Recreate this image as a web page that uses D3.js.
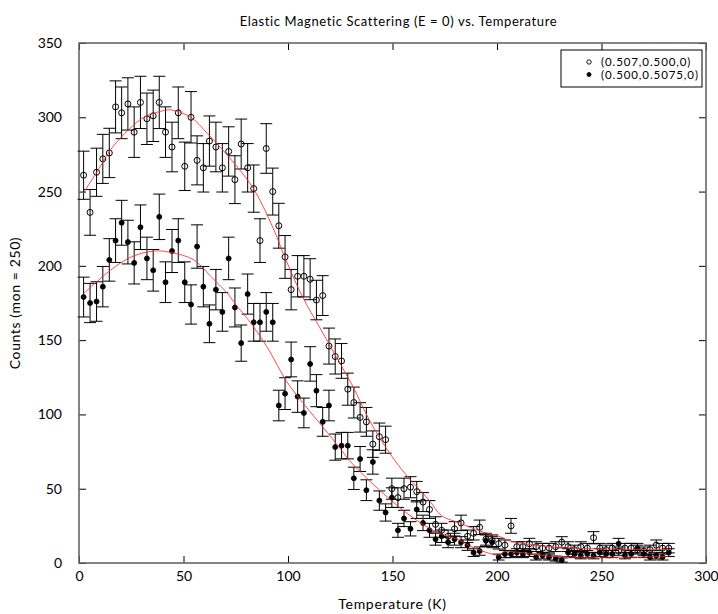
<!DOCTYPE html>
<html>
<head>
<meta charset="utf-8">
<script src="https://cdn.jsdelivr.net/npm/d3@7"></script>
<style>
  body { margin: 0; background: #fff; }
  text { font-family: Lato, "Open Sans", sans-serif; }
</style>
</head>
<body>
<div id="chart"></div>
<script>
const width = 718;
const height = 614;

// Temperatures (K) shared by both scans
const tempK = [2.2, 5.3, 8.4, 11.4, 14.5, 17.5, 20.4, 23.4, 26.4, 29.4, 32.5, 35.5, 38.4, 41.4, 44.5, 47.5,
  50.6, 53.6, 56.5, 59.5, 62.4, 65.5, 68.6, 71.6, 74.6, 77.6, 80.7, 83.6, 86.6, 89.6, 92.7, 95.6, 98.6,
  101.5, 104.6, 107.6, 110.6, 113.6, 116.6, 119.6, 122.6, 125.6, 128.6, 131.5, 134.5, 137.5, 140.6, 143.7,
  146.7, 149.7, 152.6, 155.5, 158.6, 161.6, 164.6, 167.7, 170.6, 173.5, 176.6, 179.7, 182.8, 185.9, 188.8,
  191.7, 194.7, 197.7, 200.8, 203.8, 206.7, 209.5, 212.4, 215.5, 218.7, 221.8, 224.9, 228.1, 231.0, 234.0,
  237.0, 240.1, 243.2, 246.2, 249.2, 252.2, 255.2, 258.2, 261.2, 264.2, 267.2, 270.2, 273.2, 276.2, 279.2, 282.2];

// (0.507,0.500,0) - open circles
const openCounts = [261, 236, 263, 272, 276, 307, 303, 309, 290, 310, 299, 301, 310, 290, 280, 303,
  267, 300, 271, 266, 284, 280, 266, 277, 258, 282, 266, 252, 217, 279, 250, 227, 206,
  184, 193, 193, 191, 177, 180, 146, 139, 136, 117, 108, 98, 95, 80, 85,
  83, 50, 44, 50, 51, 48, 41, 36, 26, 22, 18, 23, 27, 18, 20,
  24, 16, 15, 13, 12, 25, 11, 11, 13, 11, 10, 10, 11, 14, 11,
  9, 11, 10, 17, 10, 9, 10, 8, 10, 10, 9, 8, 9, 12, 10, 10];
const openErr = [16.2, 15.4, 16.2, 16.5, 16.6, 17.5, 17.4, 17.6, 17.0, 17.6, 17.3, 17.3, 17.6, 17.0, 16.7, 17.4,
  16.3, 17.3, 16.5, 16.3, 16.9, 16.7, 16.3, 16.6, 16.1, 16.8, 16.3, 15.9, 14.7, 16.7, 15.8, 15.1, 14.4,
  13.6, 13.9, 13.9, 13.8, 13.3, 13.4, 12.1, 11.8, 11.7, 10.8, 10.4, 9.9, 9.7, 8.9, 9.2,
  9.1, 7.1, 6.6, 7.1, 7.1, 6.9, 6.4, 6.0, 5.1, 4.7, 4.2, 4.8, 5.2, 4.2, 4.5,
  4.9, 4.0, 3.9, 3.6, 3.5, 5.0, 3.3, 3.3, 3.6, 3.3, 3.2, 3.2, 3.3, 3.7, 3.3,
  3.0, 3.3, 3.2, 4.1, 3.2, 3.0, 3.2, 2.8, 3.2, 3.2, 3.0, 2.8, 3.0, 3.5, 3.2, 3.2];

// (0.500,0.5075,0) - filled circles
const filledCounts = [179, 175, 176, 186, 204, 217, 229, 216, 202, 226, 205, 197, 233, 189, 210, 217,
  189, 174, 213, 186, 161, 184, 169, 205, 172, 148, 181, 162, 162, 169, 162, 106, 114,
  137, 112, 101, 134, 116, 95, 106, 78, 79, 79, 57, 70, 49, 68, 42,
  34, 44, 22, 30, 23, 36, 27, 22, 16, 18, 14, 16, 14, 12, 7,
  8, 15, 14, 4, 6, 6, 7, 6, 7, 4, 5, 4, 3, 2, 7,
  6, 5, 6, 5, 7, 6, 6, 13, 5, 6, 10, 6, 4, 5, 4, 7];
const filledErr = [13.4, 13.2, 13.3, 13.6, 14.3, 14.7, 15.1, 14.7, 14.2, 15.0, 14.3, 14.0, 15.3, 13.7, 14.5, 14.7,
  13.7, 13.2, 14.6, 13.6, 12.7, 13.6, 13.0, 14.3, 13.1, 12.2, 13.5, 12.7, 12.7, 13.0, 12.7, 10.3, 10.7,
  11.7, 10.6, 10.0, 11.6, 10.8, 9.7, 10.3, 8.8, 8.9, 8.9, 7.5, 8.4, 7.0, 8.2, 6.5,
  5.8, 6.6, 4.7, 5.5, 4.8, 6.0, 5.2, 4.7, 4.0, 4.2, 3.7, 4.0, 3.7, 3.5, 2.6,
  2.8, 3.9, 3.7, 2.0, 2.4, 2.4, 2.6, 2.4, 2.6, 2.0, 2.2, 2.0, 1.7, 1.4, 2.6,
  2.4, 2.2, 2.4, 2.2, 2.6, 2.4, 2.4, 3.6, 2.2, 2.4, 3.2, 2.4, 2.0, 2.2, 2.0, 2.6];

// Fit curves
const fitOpenT = [2, 8.5, 15, 24, 31, 39, 44, 53.5, 61.5, 70, 83, 92.7, 99, 107, 115, 123, 131, 139,
  148.6, 157.3, 167.7, 173.3, 182, 193, 201, 206, 229, 282.5];
const fitOpenC = [249, 263, 278, 292, 300, 304, 305, 300, 289, 276, 253, 226, 204, 179, 159, 139, 119, 96,
  74, 58, 42, 32, 27, 21, 18, 15, 10.5, 9.2];
const fitFilledT = [2, 15, 25, 36, 44, 55, 63, 71, 75, 83, 91, 99, 107, 117, 125, 129.4, 145.4, 161.3,
  172.5, 182, 187, 201, 203, 229, 282];
const fitFilledC = [181, 197, 206, 210, 209, 204, 193, 181.5, 174, 160, 143, 123, 108, 91, 77, 69, 47, 29,
  20, 15.5, 11.4, 5.4, 7.4, 4.3, 4.3];

const xTicks = [0, 50, 100, 150, 200, 250, 300];
const yTicks = [0, 50, 100, 150, 200, 250, 300, 350];
const legendLabels = ["(0.507,0.500,0)", "(0.500,0.5075,0)"];

const margin = { top: 43, right: 12, bottom: 51, left: 79 };

const x = d3.scaleLinear().domain([0, 300]).range([margin.left, width - margin.right]);
const y = d3.scaleLinear().domain([0, 350]).range([height - margin.bottom, margin.top]);

const svg = d3.select("#chart")
    .append("svg")
    .attr("width", width)
    .attr("height", height)
    .attr("viewBox", [0, 0, width, height]);

// Axes with inward ticks on all four sides
function styleAxis(g) {
    g.select(".domain").remove();
    g.selectAll(".tick line").attr("stroke", "#000");
    g.selectAll(".tick text").attr("fill", "#000").attr("font-size", 14);
}

svg.append("g")
    .attr("transform", `translate(0,${y(0)})`)
    .call(d3.axisBottom(x).tickValues(xTicks).tickSize(-7).tickPadding(8))
    .call(styleAxis);

svg.append("g")
    .attr("transform", `translate(0,${y(350)})`)
    .call(d3.axisTop(x).tickValues(xTicks).tickSize(-7).tickFormat(""))
    .call(styleAxis);

svg.append("g")
    .attr("transform", `translate(${x(0)},0)`)
    .call(d3.axisLeft(y).tickValues(yTicks).tickSize(-7).tickPadding(17))
    .call(styleAxis);

svg.append("g")
    .attr("transform", `translate(${x(300)},0)`)
    .call(d3.axisRight(y).tickValues(yTicks).tickSize(-7).tickFormat(""))
    .call(styleAxis);

// Plot frame
svg.append("rect")
    .attr("x", x(0))
    .attr("y", y(350))
    .attr("width", x(300) - x(0))
    .attr("height", y(0) - y(350))
    .attr("fill", "none")
    .attr("stroke", "#666")
    .attr("stroke-width", 1.6);

// Build point records for both series
const series = [
    { counts: openCounts, err: openErr, filled: false },
    { counts: filledCounts, err: filledErr, filled: true }
];

const cap = 6;
const bars = svg.append("g").attr("stroke", "#000").attr("stroke-width", 1).attr("fill", "none");

series.forEach(s => {
    const pts = tempK.map((t, i) => ({ t, c: s.counts[i], e: s.err[i] }));
    bars.append("g")
        .selectAll("path")
        .data(pts)
        .join("path")
        .attr("d", d => {
            const px = x(d.t), lo = y(d.c - d.e), hi = y(d.c + d.e);
            return `M${px},${lo}V${hi}M${px - cap},${hi}H${px + cap}M${px - cap},${lo}H${px + cap}`;
        });
});

series.forEach(s => {
    const pts = tempK.map((t, i) => ({ t, c: s.counts[i] }));
    svg.append("g")
        .selectAll("circle")
        .data(pts)
        .join("circle")
        .attr("cx", d => x(d.t))
        .attr("cy", d => y(d.c))
        .attr("r", s.filled ? 2.5 : 3)
        .attr("fill", s.filled ? "#000" : "none")
        .attr("stroke", "#000")
        .attr("stroke-width", s.filled ? 0.8 : 1);
});

// Fit lines
const line = d3.line()
    .x(d => x(d[0]))
    .y(d => y(d[1]))
    .curve(d3.curveCatmullRom.alpha(0.5));

[[fitOpenT, fitOpenC], [fitFilledT, fitFilledC]].forEach(([ts, cs]) => {
    svg.append("path")
        .attr("d", line(ts.map((t, i) => [t, cs[i]])))
        .attr("fill", "none")
        .attr("stroke", "#ff2a2a")
        .attr("stroke-width", 1)
        .attr("stroke-opacity", 0.85);
});

// Legend
const legend = svg.append("g").attr("transform", "translate(561,50)");
legend.append("rect")
    .attr("width", 141)
    .attr("height", 37)
    .attr("fill", "#fff")
    .attr("stroke", "#000")
    .attr("stroke-width", 1);

legendLabels.forEach((label, i) => {
    const row = legend.append("g").attr("transform", `translate(0,${12 + i * 12.5})`);
    row.append("circle")
        .attr("cx", 28)
        .attr("cy", 0)
        .attr("r", i === 0 ? 2.2 : 2)
        .attr("fill", i === 0 ? "#fff" : "#000")
        .attr("stroke", "#000")
        .attr("stroke-width", 0.9);
    row.append("text")
        .attr("x", 40)
        .attr("y", 0)
        .attr("dy", "0.35em")
        .attr("font-size", 11.5)
        .attr("letter-spacing", 0.9)
        .text(label);
});

// Titles
svg.append("text")
    .attr("x", (x(0) + x(300)) / 2 + 6)
    .attr("y", 26)
    .attr("text-anchor", "middle")
    .attr("font-size", 13)
    .attr("letter-spacing", 0.6)
    .text("Elastic Magnetic Scattering (E = 0) vs. Temperature");

svg.append("text")
    .attr("x", (x(0) + x(300)) / 2)
    .attr("y", 609)
    .attr("text-anchor", "middle")
    .attr("font-size", 14)
    .attr("letter-spacing", 0.7)
    .text("Temperature (K)");

svg.append("text")
    .attr("transform", `translate(20,${(y(0) + y(350)) / 2}) rotate(-90)`)
    .attr("text-anchor", "middle")
    .attr("font-size", 14)
    .attr("letter-spacing", 0.6)
    .text("Counts (mon = 250)");
</script>
</body>
</html>
